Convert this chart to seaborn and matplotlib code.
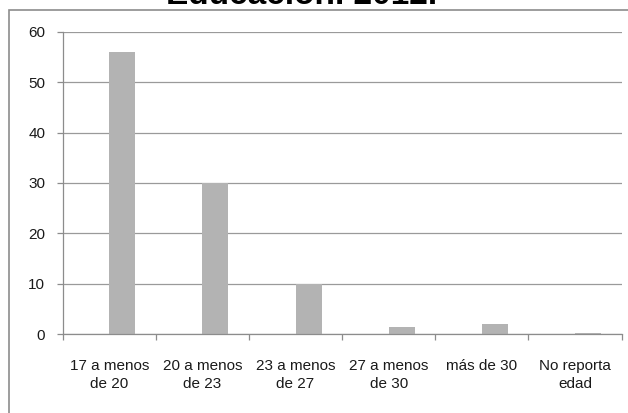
import pandas as pd
import matplotlib.pyplot as plt
import seaborn as sns
from matplotlib.patches import Rectangle
from matplotlib.ticker import FixedLocator

# Edad de los estudiantes (porcentaje)
categorias = ["17 a menos\nde 20", "20 a menos\nde 23", "23 a menos\nde 27",
              "27 a menos\nde 30", "más de 30", "No reporta\nedad"]
valores = [56, 30, 10, 1.5, 2, 0.3]
vacia = [0, 0, 0, 0, 0, 0]  # serie en blanco del grafico original

df = pd.DataFrame({
    "categoria": categorias * 2,
    "valor": vacia + valores,
    "serie": ["vacia"] * len(categorias) + ["edad"] * len(categorias),
})

sns.set_style("white")
plt.rcParams["font.family"] = ["Liberation Sans", "DejaVu Sans"]

fig = plt.figure(figsize=(6.28, 4.13), dpi=100)
ax = fig.add_axes([0.0998, 0.1906, 0.890, 0.7327])

sns.barplot(data=df, x="categoria", y="valor", hue="serie",
            hue_order=["vacia", "edad"], palette=["#B3B3B3", "#B3B3B3"],
            width=0.56, linewidth=0, dodge=True, legend=False, ax=ax)

ax.set_ylim(0, 60)
ax.set_xlim(-0.5, len(categorias) - 0.5)
ax.set_yticks(range(0, 61, 10))
ax.yaxis.grid(True, color="#9a9a9a", linewidth=0.9)
ax.set_axisbelow(True)
ax.set_xlabel("")
ax.set_ylabel("")

for side in ["top", "right"]:
    ax.spines[side].set_visible(False)
for side in ["left", "bottom"]:
    ax.spines[side].set_color("#8c8c8c")
    ax.spines[side].set_linewidth(0.9)

# ticks entre categorias como en Excel
ax.xaxis.set_minor_locator(FixedLocator([i - 0.5 for i in range(len(categorias) + 1)]))
ax.tick_params(axis="x", which="minor", length=4.5, color="#8c8c8c", width=0.9, direction="out", bottom=True)
ax.tick_params(axis="x", which="major", length=0, pad=18, labelsize=11, labelcolor="#1a1a1a")
ax.tick_params(axis="y", length=4.5, color="#8c8c8c", width=0.9, direction="out", left=True, pad=8, labelsize=11, labelcolor="#1a1a1a")
for lab in ax.get_xticklabels():
    lab.set_linespacing(1.3)

# titulo cortado arriba
fig.text(0.48, 1 - 4 / 413, "Educación. 2012.", ha="center", va="baseline",
         fontsize=24, fontweight="bold", color="black")

# marco del area del grafico
fig.patches.append(Rectangle((9.3 / 628, -0.1), 1.2, 1 - 10 / 413 + 0.1,
                             transform=fig.transFigure, fill=False,
                             edgecolor="#8c8c8c", linewidth=1.2, clip_on=False))

fig.savefig("out.png", dpi=100)
